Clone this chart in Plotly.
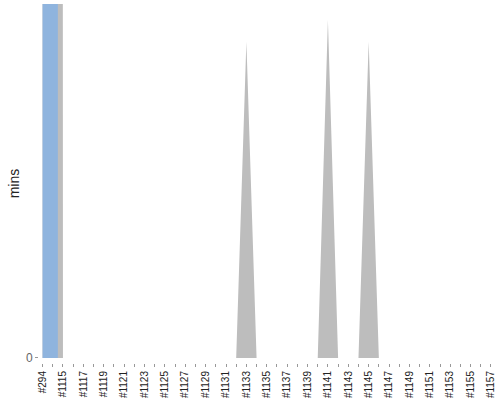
import plotly.graph_objects as go

# builds shown on the x axis (category order)
builds = ['#294', '#1114', '#1115', '#1116', '#1117', '#1118', '#1119', '#1120',
          '#1121', '#1122', '#1123', '#1124', '#1125', '#1126', '#1127', '#1128',
          '#1129', '#1130', '#1131', '#1132', '#1133', '#1134', '#1135', '#1136',
          '#1137', '#1138', '#1139', '#1140', '#1141', '#1142', '#1143', '#1144',
          '#1145', '#1146', '#1147', '#1148', '#1149', '#1150', '#1151', '#1152',
          '#1153', '#1154', '#1155', '#1156', '#1157']

# build duration, mins (grey area)
duration = [500, 500, 0, 0, 0, 0, 0, 0,
            0, 0, 0, 0, 0, 0, 0, 0,
            0, 0, 0, 0, 5.36, 0, 0, 0,
            0, 0, 0, 0, 5.73, 0, 0, 0,
            5.36, 0, 0, 0, 0, 0, 0, 0,
            0, 0, 0, 0, 0]

# current build (blue bar)
current_build = ['#294']
current_mins = [500]

idx = list(range(len(builds)))
tick_text = [b if i % 2 == 0 else '' for i, b in enumerate(builds)]

fig = go.Figure()

fig.add_trace(go.Scatter(
    x=idx, y=duration,
    mode='lines',
    line=dict(color='#bdbdbd', width=0),
    fill='tozeroy',
    fillcolor='#bdbdbd',
    hoverinfo='skip',
    showlegend=False,
))

fig.add_trace(go.Bar(
    x=[builds.index(b) for b in current_build], y=current_mins,
    width=1.5, offset=0,
    marker=dict(color='#8fb4de', line=dict(width=0)),
    showlegend=False,
    zorder=1,
))

fig.update_layout(
    width=500,
    height=400,
    margin=dict(l=39, r=7, t=4, b=37),
    plot_bgcolor='white',
    paper_bgcolor='white',
    font=dict(family='Liberation Sans, Arial, sans-serif', size=10, color='#222'),
    xaxis=dict(
        range=[-0.35, 44.2],
        automargin=False,
        tickmode='array',
        tickvals=idx,
        ticktext=tick_text,
        tickangle=-90,
        ticks='outside',
        ticklen=3,
        tickcolor='#999',
        showline=True,
        linecolor='#999',
        showgrid=False,
        zeroline=False,
        tickfont=dict(size=10, color='#222'),
    ),
    yaxis=dict(
        range=[-0.085, 6.0],
        automargin=False,
        tickmode='array',
        tickvals=[0],
        ticktext=['0'],
        ticks='outside',
        ticklen=3,
        tickcolor='#999',
        showline=True,
        linecolor='#bbb',
        showgrid=False,
        zeroline=False,
        tickfont=dict(size=12, color='#666'),
        title=dict(text='mins', font=dict(size=14, color='#222'), standoff=3),
    ),
)

# page body has a default margin; drop it so the chart sits at the corner
fig.write_html('out.html', config={'displayModeBar': False},
               post_script="document.body.style.margin='0';")
